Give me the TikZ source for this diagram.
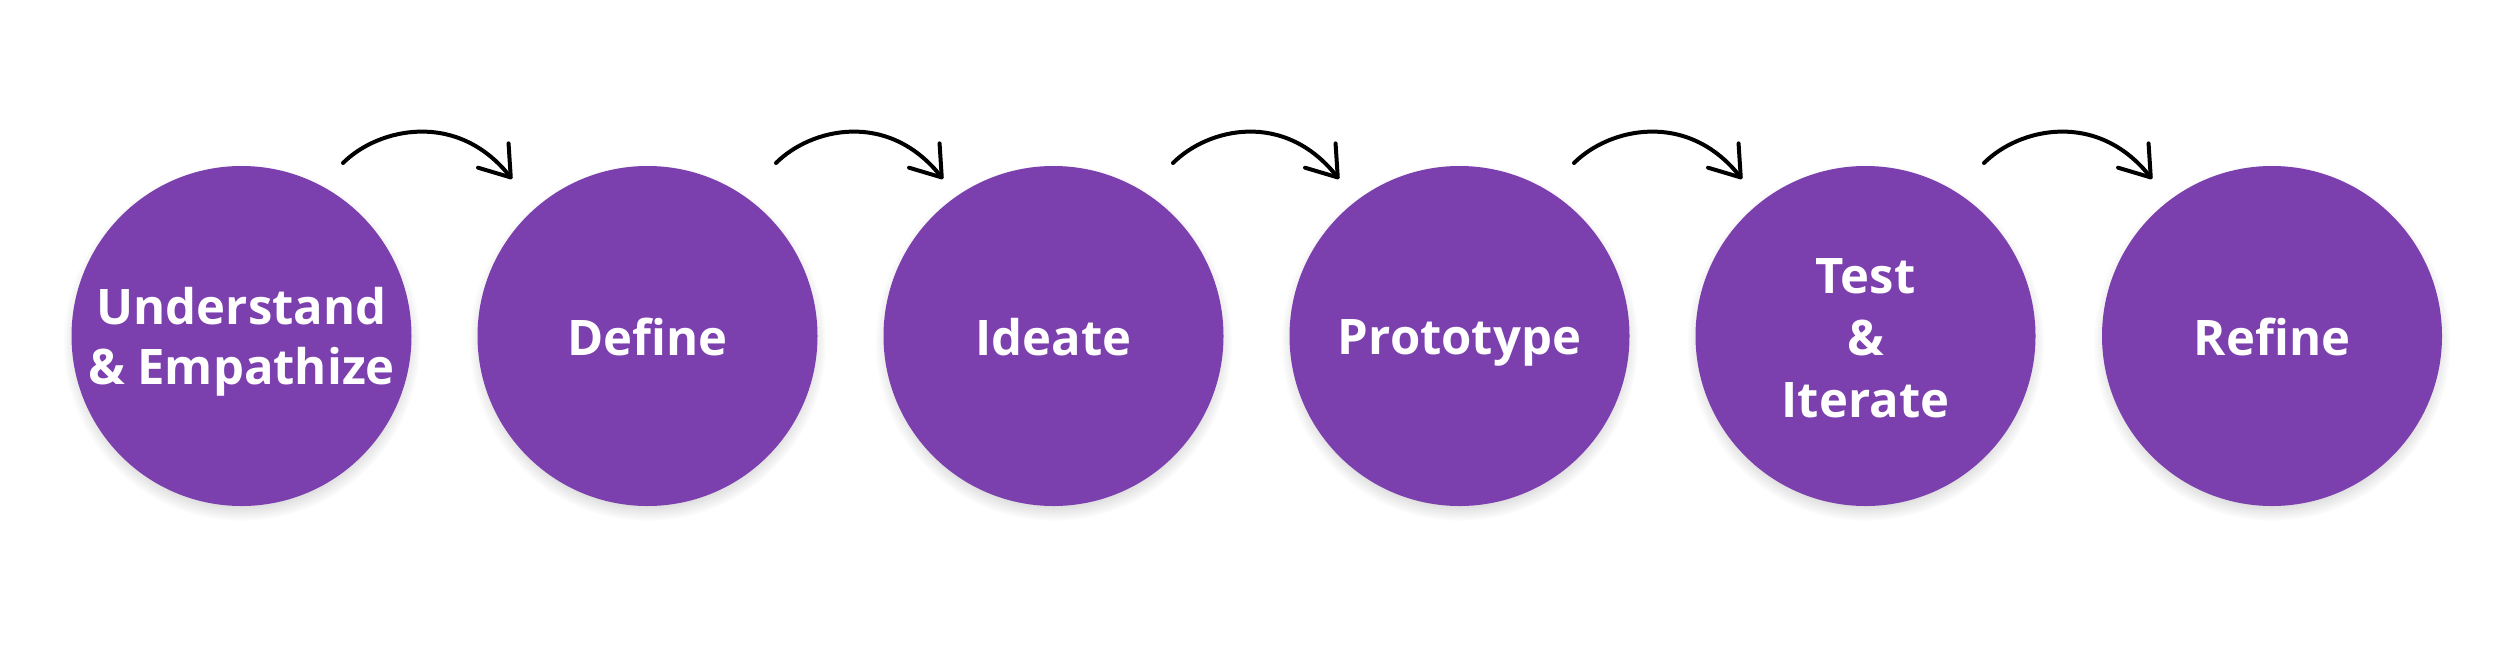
\documentclass[tikz,border=0pt]{standalone}
\usepackage{fontspec}
\setmainfont{Open Sans}
\usetikzlibrary{arrows.meta,shadows,fadings}
\definecolor{stagepurple}{RGB}{123,63,174}
\newcommand{\stl}{\rule[-5pt]{0pt}{29pt}}
\begin{document}
\begin{tikzpicture}[x=0.5pt,y=-0.5pt,
  stage/.style={circle, fill=stagepurple, minimum size=170pt, inner sep=-16pt,
    text=white, align=center,
    font=\bfseries\fontsize{24.5pt}{30pt}\selectfont,
    circular drop shadow={shadow xshift=0pt, shadow yshift=-3pt, shadow scale=1.05, fill=black, opacity=0.22}},
  flow/.style={draw=black, line width=2pt, line cap=round,
    -{Straight Barb[length=14pt, width=19.5pt, line cap=round, line join=round]}}
]
\fill[white] (0,0) rectangle (2516,670);
\useasboundingbox (0,0) rectangle (2516,670);

\node[stage] (n1) at (241.5,336) {\stl Understand\\\stl \& Empathize};
\node[stage] (n2) at (647.5,336) {\stl Define};
\node[stage] (n3) at (1053.5,336) {\stl Ideate};
\node[stage] (n4) at (1459.5,336) {\stl Prototype};
\node[stage,font=\bfseries\fontsize{24.5pt}{31pt}\selectfont] (n5) at (1865.5,336) {\stl Test\\\stl \&\\\stl Iterate};
\node[stage] (n6) at (2272,336) {\stl Refine};

\coordinate (a1s) at (343,163);  \coordinate (a1e) at (512,179);
\coordinate (a2s) at (776,163);  \coordinate (a2e) at (943,179);
\coordinate (a3s) at (1173,163); \coordinate (a3e) at (1339,179);
\coordinate (a4s) at (1574,163); \coordinate (a4e) at (1742,179);
\coordinate (a5s) at (1984,163); \coordinate (a5e) at (2152,179);

\foreach \i in {1,...,5}{
  \draw[flow] (a\i s) .. controls +(35,-35) and +(-55,-69) .. (a\i e);
}
\end{tikzpicture}
\end{document}
